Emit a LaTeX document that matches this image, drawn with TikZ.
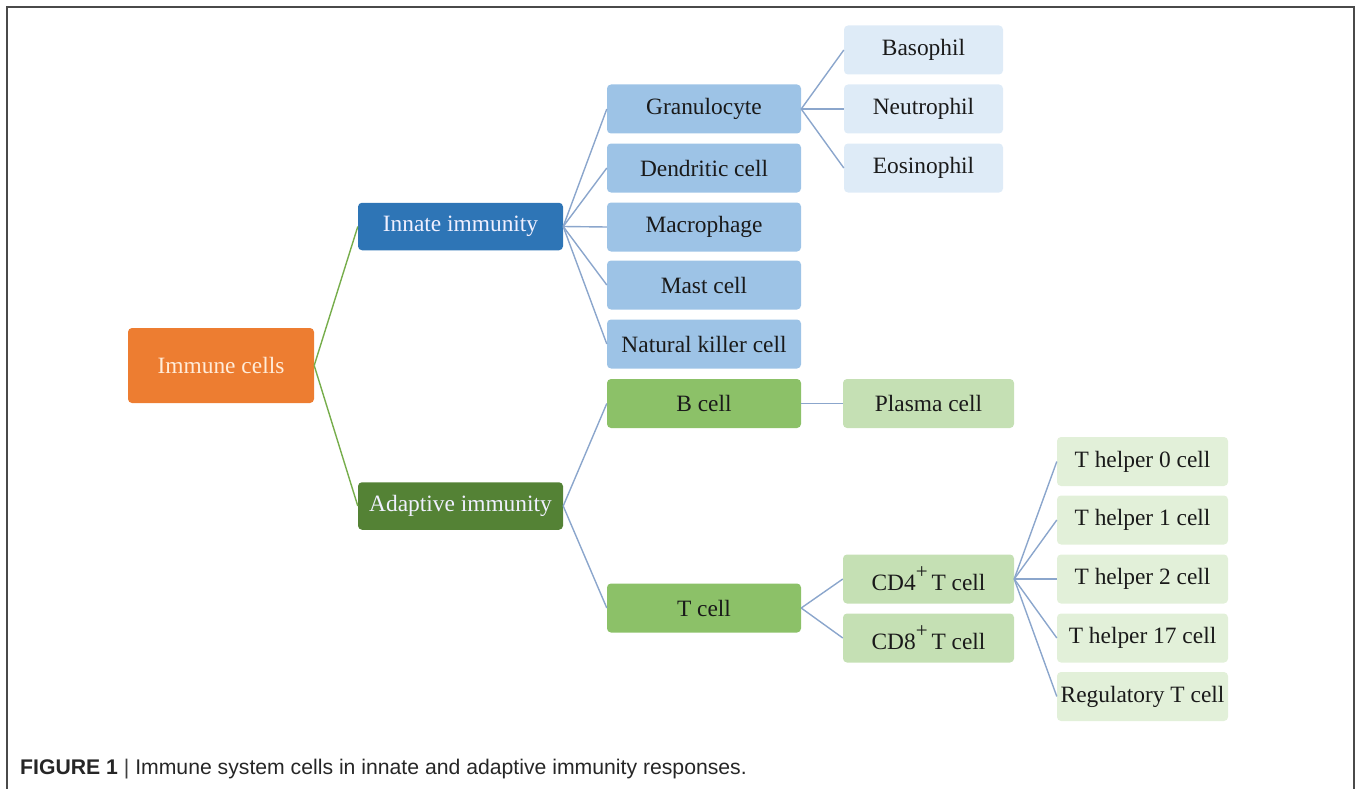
\documentclass[tikz,border=0pt]{standalone}
\usepackage{fontspec}
\setmainfont{Liberation Serif}
\newfontfamily\capfont{Liberation Sans}
\definecolor{cOrange}{HTML}{ED7D31}
\definecolor{cInnate}{HTML}{2E75B6}
\definecolor{cAdapt}{HTML}{548235}
\definecolor{cBlueA}{HTML}{9DC3E6}
\definecolor{cBlueB}{HTML}{DEEBF7}
\definecolor{cGreenA}{HTML}{8CC168}
\definecolor{cGreenB}{HTML}{C5E0B4}
\definecolor{cGreenC}{HTML}{E2F0D9}
\definecolor{cLineG}{HTML}{76AD4B}
\definecolor{cLineB}{HTML}{8BA6CC}
\definecolor{cText}{HTML}{1A1A1A}
\definecolor{cFrame}{HTML}{4A4A4A}
\newcommand\plussup{\raisebox{0.5em}{\fontsize{21}{21}\selectfont +}\,}
\begin{document}
\begin{tikzpicture}[x=1pt,y=-1pt,
  box/.style={rounded corners=4pt, inner sep=0pt, text=cText,
    font=\fontsize{23.4}{26}\selectfont},
  rootbox/.style={box, fill=cOrange, text=orange!15, minimum width=186pt, minimum height=75pt},
  onebox/.style={box, text=white!94!blue, minimum width=205pt, minimum height=47.5pt},
  twobox/.style={box, minimum width=194pt, minimum height=49pt},
  threeb/.style={box, fill=cBlueB, minimum width=159pt, minimum height=49pt},
  threeg/.style={box, fill=cGreenB, minimum width=171pt, minimum height=49pt},
  fourbox/.style={box, fill=cGreenC, minimum width=171pt, minimum height=49pt},
  glink/.style={draw=cLineG, line width=1.4pt},
  blink/.style={draw=cLineB, line width=1.4pt}]
\useasboundingbox (0,0) rectangle (1359,789);
% frame
\coordinate (f1) at (7,800);
\coordinate (f2) at (7,7);
\coordinate (f3) at (1354,7);
\coordinate (f4) at (1354,800);
\draw[cFrame, line width=2pt] (f1) -- (f2) -- (f3) -- (f4);
% nodes
\node[rootbox] (root) at (221,365.5) {Immune cells};
\node[onebox, fill=cInnate] (innate) at (460.5,226.5) {Innate immunity};
\node[onebox, fill=cAdapt] (adapt) at (460.5,506) {Adaptive immunity};
\node[twobox, fill=cBlueA] (gran) at (704,109) {Granulocyte};
\node[twobox, fill=cBlueA] (dend) at (704,168) {Dendritic cell};
\node[twobox, fill=cBlueA] (macro) at (704,227) {Macrophage};
\node[twobox, fill=cBlueA] (mast) at (704,285) {Mast cell};
\node[twobox, fill=cBlueA] (nk) at (704,344) {Natural killer cell};
\node[twobox, fill=cGreenA] (bcell) at (704,403.5) {B cell};
\node[twobox, fill=cGreenA] (tcell) at (704,608) {T cell};
\node[threeb] (baso) at (923.5,50) {Basophil};
\node[threeb] (neut) at (923.5,109) {Neutrophil};
\node[threeb] (eos) at (923.5,168) {Eosinophil};
\node[threeg] (plasma) at (928.5,403.5) {Plasma cell};
\node[threeg] (cdfour) at (928.5,579) {CD4\plussup T cell};
\node[threeg] (cdeight) at (928.5,638) {CD8\plussup T cell};
\node[fourbox] (th0) at (1142.5,461.5) {T helper 0 cell};
\node[fourbox] (th1) at (1142.5,520) {T helper 1 cell};
\node[fourbox] (th2) at (1142.5,579) {T helper 2 cell};
\node[fourbox] (th17) at (1142.5,638) {T helper 17 cell};
\node[fourbox] (treg) at (1142.5,696.5) {Regulatory T cell};
% connectors
\draw[glink] (root.east) -- (innate.west);
\draw[glink] (root.east) -- (adapt.west);
\foreach \c in {gran,dend,macro,mast,nk} \draw[blink] (innate.east) -- (\c.west);
\foreach \c in {bcell,tcell} \draw[blink] (adapt.east) -- (\c.west);
\foreach \c in {baso,neut,eos} \draw[blink] (gran.east) -- (\c.west);
\draw[blink] (bcell.east) -- (plasma.west);
\foreach \c in {cdfour,cdeight} \draw[blink] (tcell.east) -- (\c.west);
\foreach \c in {th0,th1,th2,th17,treg} \draw[blink] (cdfour.east) -- (\c.west);
% caption
\node[anchor=base west, inner sep=0pt, text=black!85, font=\capfont\fontsize{21.2}{24}\selectfont] (cap) at (20,774)
  {\textbf{FIGURE 1} {\color{black!75}|} Immune system cells in innate and adaptive immunity responses.};
\end{tikzpicture}
\end{document}
